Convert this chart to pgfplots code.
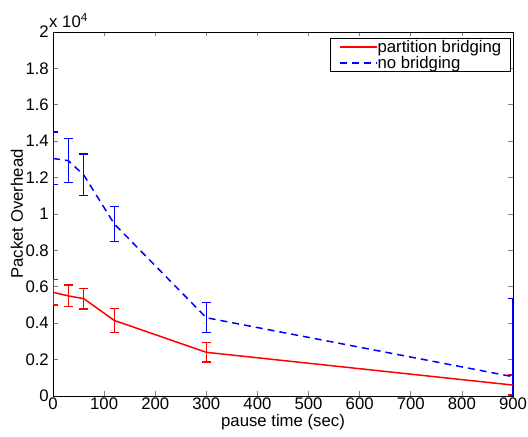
\documentclass[border=0pt]{standalone}
\usepackage{fontspec}
\setmainfont{Liberation Sans}
\usepackage{pgfplots}
\pgfplotsset{compat=1.18}

\begin{document}
\begin{tikzpicture}[font=\fontsize{16.8}{20}\selectfont]
\path (-53bp,-41bp) rectangle (475bp,396bp);
\begin{axis}[
  at={(0,0)}, anchor=south west,
  scale only axis, width=460bp, height=364bp,
  xmin=0, xmax=900, ymin=0, ymax=20000,
  xtick={0,100,...,900},
  ytick={0,2000,...,20000},
  scaled y ticks=base 10:-4,
  ytick scale label code/.code={x 10\textsuperscript{4}},
  every y tick scale label/.style={at={(rel axis cs:0,1)}, anchor=south west, inner sep=0pt, yshift=3.7bp},
  tick align=inside, major tick length=4.5bp,
  tick style={line width=0.7bp},
  axis line style={line width=0.8bp},
  /pgf/number format/assume math mode=true,
  xticklabel style={inner sep=0pt, anchor=north, yshift=-2bp},
  yticklabel style={inner sep=0pt, anchor=east, xshift=-4bp},
  xlabel={pause time (sec)},
  ylabel={Packet Overhead},
  xlabel style={at={(axis description cs:0.5,-0.049)}, anchor=north, inner sep=0pt},
  ylabel style={at={(axis description cs:-0.0646,0.5)}, anchor=south, inner sep=0pt},
  legend style={at={(rel axis cs:0.9957,0.983)}, anchor=north east, draw=black, line width=0.8bp,
    inner xsep=9.3bp, inner ysep=1.5bp, row sep=2.5bp,
    nodes={inner sep=0pt}},
  legend image code/.code={\path (0bp,0bp) -- (36.7bp,0bp); \draw[#1] (0bp,0bp) -- (27.4bp,0bp);},
  legend cell align=left,
  unbounded coords=jump,
]
% error bars: partition bridging (mean +/- error)
\addplot[draw=red, line width=1.2bp, solid, forget plot] coordinates {
 (0,5000) (0,6400) (0,nan) (-9.1,6400) (9.1,6400) (0,nan) (-9.1,5000) (9.1,5000) (0,nan)
 (30,4900) (30,6100) (30,nan) (20.9,6100) (39.1,6100) (30,nan) (20.9,4900) (39.1,4900) (30,nan)
 (60,4780) (60,5920) (60,nan) (50.9,5920) (69.1,5920) (60,nan) (50.9,4780) (69.1,4780) (60,nan)
 (120,3510) (120,4790) (120,nan) (110.9,4790) (129.1,4790) (120,nan) (110.9,3510) (129.1,3510) (120,nan)
 (300,1870) (300,2930) (300,nan) (290.9,2930) (309.1,2930) (300,nan) (290.9,1870) (309.1,1870) (300,nan)
 (900,50) (900,1150) (900,nan) (890.9,1150) (909.1,1150) (900,nan) (890.9,50) (909.1,50)
};
% error bars: no bridging (mean +/- error)
\addplot[draw=blue, line width=1.2bp, solid, forget plot] coordinates {
 (0,11600) (0,14500) (0,nan) (-9.1,14500) (9.1,14500) (0,nan) (-9.1,11600) (9.1,11600) (0,nan)
 (30,11730) (30,14130) (30,nan) (20.9,14130) (39.1,14130) (30,nan) (20.9,11730) (39.1,11730) (30,nan)
 (60,11000) (60,13300) (60,nan) (50.9,13300) (69.1,13300) (60,nan) (50.9,11000) (69.1,11000) (60,nan)
 (120,8500) (120,10400) (120,nan) (110.9,10400) (129.1,10400) (120,nan) (110.9,8500) (129.1,8500) (120,nan)
 (300,3470) (300,5130) (300,nan) (290.9,5130) (309.1,5130) (300,nan) (290.9,3470) (309.1,3470) (300,nan)
 (900,-3240) (900,5360) (900,nan) (890.9,5360) (909.1,5360) (900,nan) (890.9,-3240) (909.1,-3240)
};
\addplot[draw=red, line width=1.5bp, solid, mark=none] coordinates {
 (0,5700) (30,5500) (60,5350) (120,4150) (300,2400) (900,600)
};
\addlegendentry{partition bridging}
\addplot[draw=blue, line width=1.5bp, dash pattern=on 7bp off 5bp, mark=none] coordinates {
 (0,13050) (30,12930) (60,12150) (120,9450) (300,4300) (900,1060)
};
\addlegendentry{no bridging}
\end{axis}
\end{tikzpicture}
\end{document}
